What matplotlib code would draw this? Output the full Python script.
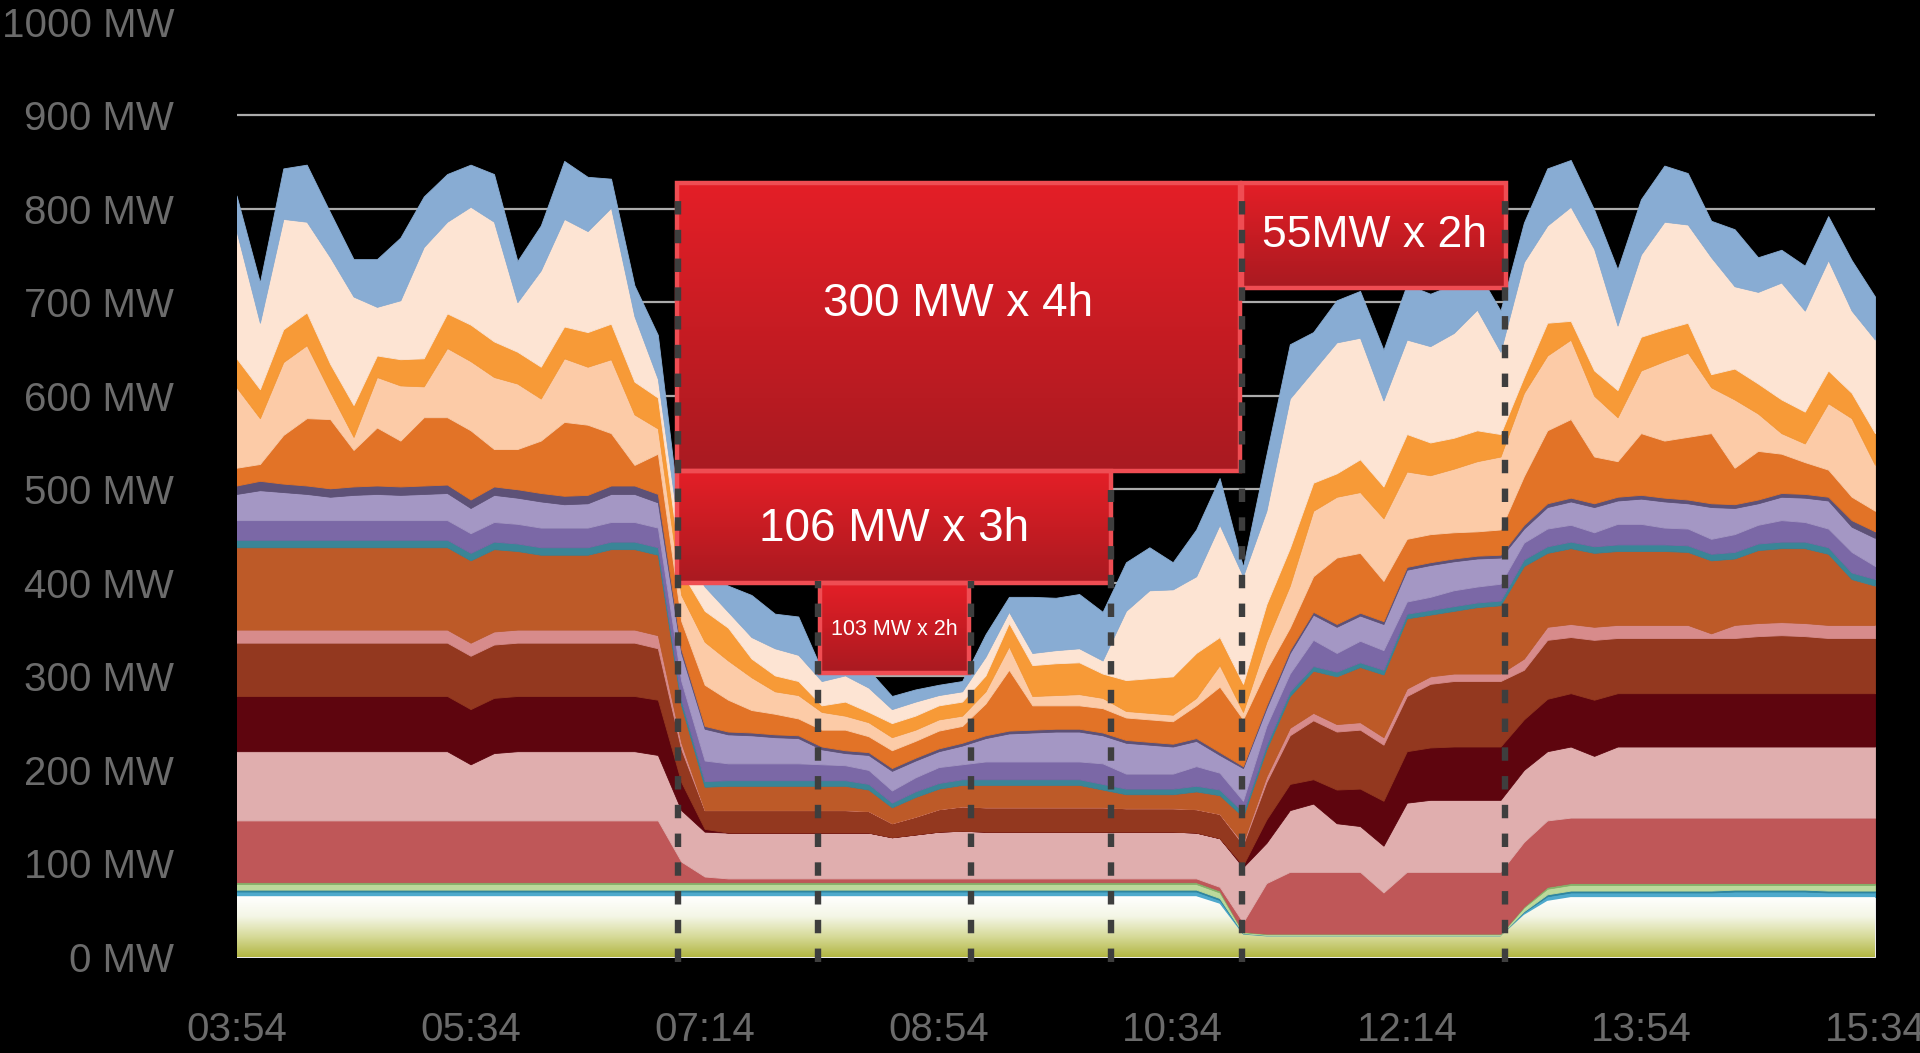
import numpy as np
import matplotlib
matplotlib.use("Agg")
import matplotlib.pyplot as plt
from matplotlib.colors import LinearSegmentedColormap
from matplotlib.patches import Rectangle

plt.rcParams['font.family'] = ['Liberation Sans', 'DejaVu Sans']

# sample times (every 10 min)
times = ["03:54", "04:04", "04:14", "04:24", "04:34", "04:44", "04:54", "05:04", "05:14", "05:24",
         "05:34", "05:44", "05:54", "06:04", "06:14", "06:24", "06:34", "06:44", "06:54", "07:04",
         "07:14", "07:24", "07:34", "07:44", "07:54", "08:04", "08:14", "08:24", "08:34", "08:44",
         "08:54", "09:04", "09:14", "09:24", "09:34", "09:44", "09:54", "10:04", "10:14", "10:24",
         "10:34", "10:44", "10:54", "11:04", "11:14", "11:24", "11:34", "11:44", "11:54", "12:04",
         "12:14", "12:24", "12:34", "12:44", "12:54", "13:04", "13:14", "13:24", "13:34", "13:44",
         "13:54", "14:04", "14:14", "14:24", "14:34", "14:44", "14:54", "15:04", "15:14", "15:24",
         "15:34"]

# MW per layer, bottom to top
base = [65, 65, 65, 65, 65, 65, 65, 65, 65, 65, 65, 65, 65, 65, 65, 65, 65, 65, 65, 65,
        65, 65, 65, 65, 65, 65, 65, 65, 65, 65, 65, 65, 65, 65, 65, 65, 65, 65, 65, 65,
        65, 65, 57, 24, 22, 22, 22, 22, 22, 22, 22, 22, 22, 22, 22, 45, 60, 64, 64, 64,
        64, 64, 64, 64, 64, 64, 64, 64, 64, 64, 64]
light_blue = [5, 5, 5, 5, 5, 5, 5, 5, 5, 5, 5, 5, 5, 5, 5, 5, 5, 5, 5, 5,
              5, 5, 5, 5, 5, 5, 5, 5, 5, 5, 5, 5, 5, 5, 5, 5, 5, 5, 5, 5,
              5, 5, 4, 1, 1, 1, 1, 1, 1, 1, 1, 1, 1, 1, 1, 3, 5, 5, 5, 5,
              5, 5, 5, 5, 6, 6, 6, 6, 5, 5, 5]
teal_line = [2, 2, 2, 2, 2, 2, 2, 2, 2, 2, 2, 2, 2, 2, 2, 2, 2, 2, 2, 2,
             2, 2, 2, 2, 2, 2, 2, 2, 2, 2, 2, 2, 2, 2, 2, 2, 2, 2, 2, 2,
             2, 2, 2, 0.5, 0.5, 0.5, 0.5, 0.5, 0.5, 0.5, 0.5, 0.5, 0.5, 0.5, 0.5, 1, 2, 2, 2, 2,
             2, 2, 2, 2, 2, 2, 2, 2, 2, 2, 2]
light_green = [6, 6, 6, 6, 6, 6, 6, 6, 6, 6, 6, 6, 6, 6, 6, 6, 6, 6, 6, 6,
               6, 6, 6, 6, 6, 6, 6, 6, 6, 6, 6, 6, 6, 6, 6, 6, 6, 6, 6, 6,
               6, 6, 6, 1, 1, 1, 1, 1, 1, 1, 1, 1, 1, 1, 1, 4, 6, 6, 6, 6,
               6, 6, 6, 6, 5, 5, 5, 5, 6, 6, 6]
dark_green = [2, 2, 2, 2, 2, 2, 2, 2, 2, 2, 2, 2, 2, 2, 2, 2, 2, 2, 2, 2,
              2, 2, 2, 2, 2, 2, 2, 2, 2, 2, 2, 2, 2, 2, 2, 2, 2, 2, 2, 2,
              2, 2, 2, 0.5, 0.5, 0.5, 0.5, 0.5, 0.5, 0.5, 0.5, 0.5, 0.5, 0.5, 0.5, 1, 2, 2, 2, 2,
              2, 2, 2, 2, 2, 2, 2, 2, 2, 2, 2]
red = [66, 66, 66, 66, 66, 66, 66, 66, 66, 66, 66, 66, 66, 66, 66, 66, 66, 66, 66, 22,
       6, 4, 4, 4, 4, 4, 4, 4, 4, 4, 4, 4, 4, 4, 4, 4, 4, 4, 4, 4,
       4, 4, 4, 10, 54, 66, 66, 66, 66, 44, 66, 66, 66, 66, 66, 69, 71, 70, 70, 70,
       70, 70, 70, 70, 70, 70, 70, 70, 70, 70, 70]
pink = [74, 74, 74, 74, 74, 74, 74, 74, 74, 74, 60, 72, 74, 74, 74, 74, 74, 74, 70, 55,
        48, 49, 49, 49, 49, 49, 49, 49, 44, 47, 50, 51, 50, 50, 50, 50, 50, 50, 50, 50,
        50, 49, 52, 59, 43, 66, 73, 52, 49, 50, 74, 77, 77, 77, 77, 77, 74, 76, 66, 76,
        76, 76, 76, 76, 76, 76, 76, 76, 76, 76, 76]
maroon = [59, 59, 59, 59, 59, 59, 59, 59, 59, 59, 59, 59, 59, 59, 59, 59, 59, 59, 59, 30,
          3, 0, 0, 0, 0, 0, 0, 0, 0, 0, 0, 0, 0, 0, 0, 0, 0, 0, 0, 0,
          0, 0, 0, 2, 25, 28, 26, 36, 40, 48, 55, 56, 57, 57, 57, 54, 56, 57, 60, 57,
          57, 57, 57, 57, 57, 57, 57, 57, 57, 57, 57]
brown = [57, 57, 57, 57, 57, 57, 57, 57, 57, 57, 57, 57, 57, 57, 57, 57, 57, 57, 55, 35,
         20, 24, 24, 24, 24, 24, 24, 23, 15, 19, 24, 26, 26, 26, 26, 26, 26, 26, 25, 25,
         25, 25, 26, 22, 40, 52, 63, 62, 63, 60, 59, 68, 70, 70, 70, 53, 63, 60, 64, 59,
         59, 59, 59, 59, 59, 61, 62, 61, 59, 59, 59]
light_pink = [14, 14, 14, 14, 14, 14, 14, 14, 14, 14, 14, 14, 14, 14, 14, 14, 14, 14, 14, 7,
              0, 0, 0, 0, 0, 0, 0, 0, 0, 0, 0, 0, 0, 0, 0, 0, 0, 0, 0, 0,
              0, 0, 0, 2, 6, 8, 8, 8, 8, 8, 8, 8, 8, 8, 8, 12, 14, 14, 14, 14,
              14, 14, 14, 5, 14, 14, 14, 14, 14, 14, 14]
rust = [88, 88, 88, 88, 88, 88, 88, 88, 88, 88, 88, 88, 84, 80, 80, 80, 86, 86, 86, 40,
        25, 26, 26, 26, 26, 26, 26, 23, 17, 21, 22, 23, 24, 24, 24, 24, 24, 19, 15, 15,
        15, 19, 20, 28, 29, 34, 45, 51, 59, 67, 75, 66, 67, 71, 73, 99, 79, 81, 79, 79,
        79, 79, 78, 78, 71, 78, 79, 80, 76, 49, 42]
teal = [8, 8, 8, 8, 8, 8, 8, 8, 8, 8, 8, 8, 8, 8, 8, 8, 8, 8, 8, 6,
        6, 6, 6, 6, 6, 6, 6, 6, 5, 6, 6, 6, 6, 6, 6, 6, 6, 6, 6, 6,
        6, 6, 6, 5, 5, 5, 5, 5, 5, 5, 5, 5, 5, 5, 5, 7, 7, 7, 7, 7,
        7, 7, 7, 7, 7, 7, 7, 7, 7, 7, 7]
purple = [21, 21, 21, 21, 21, 21, 21, 21, 21, 21, 21, 21, 21, 21, 21, 21, 21, 21, 21, 20,
          22, 18, 18, 18, 18, 17, 16, 15, 13, 15, 17, 16, 19, 19, 19, 19, 19, 22, 16, 16,
          16, 21, 18, 12, 20, 19, 28, 20, 23, 21, 13, 14, 17, 17, 18, 18, 19, 18, 15, 22,
          22, 18, 18, 16, 19, 20, 23, 21, 20, 22, 14]
lavender = [28, 32, 30, 28, 25, 27, 28, 27, 28, 29, 27, 29, 28, 28, 25, 26, 30, 30, 27, 30,
            34, 31, 30, 28, 27, 16, 13, 16, 21, 18, 17, 20, 25, 30, 31, 32, 32, 30, 33, 31,
            29, 27, 19, 35, 19, 22, 27, 28, 27, 28, 34, 34, 31, 30, 28, 15, 23, 25, 27, 25,
            27, 28, 27, 34, 28, 23, 25, 26, 30, 27, 30]
slate = [9, 10, 9, 9, 9, 9, 9, 9, 9, 9, 9, 9, 9, 9, 9, 9, 9, 9, 9, 4,
         3, 3, 3, 3, 3, 3, 3, 3, 3, 3, 3, 3, 3, 3, 3, 3, 3, 3, 3, 3,
         3, 3, 3, 2, 3, 3, 3, 3, 3, 3, 3, 3, 3, 3, 3, 4, 4, 4, 4, 4,
         4, 4, 4, 4, 4, 4, 4, 4, 4, 7, 7]
orange = [19, 18, 52, 72, 74, 39, 62, 49, 73, 72, 74, 40, 43, 56, 79, 75, 56, 22, 43, 30,
          44, 34, 24, 22, 18, 18, 22, 17, 19, 18, 19, 18, 34, 65, 26, 25, 25, 26, 24, 24,
          24, 35, 70, 50, 38, 24, 38, 71, 64, 43, 30, 30, 28, 26, 27, 52, 78, 84, 50, 38,
          66, 61, 67, 75, 39, 52, 42, 34, 29, 25, 22]
peach = [86, 49, 78, 78, 29, 14, 54, 59, 33, 74, 74, 77, 70, 45, 68, 62, 79, 54, 27, 28,
         46, 42, 35, 24, 25, 19, 15, 15, 14, 12, 12, 11, 13, 25, 10, 11, 12, 11, 7, 7,
         7, 8, 23, 8, 30, 45, 70, 65, 65, 67, 72, 63, 68, 75, 78, 89, 80, 85, 65, 47,
         67, 85, 90, 49, 73, 40, 22, 20, 71, 84, 49]
bright_orange = [31, 31, 35, 35, 30, 34, 23, 28, 30, 37, 39, 38, 34, 34, 34, 37, 38, 35, 33, 25,
                 33, 35, 20, 17, 15, 7, 15, 11, 15, 15, 15, 15, 17, 25, 33, 34, 34, 26, 33, 37,
                 41, 48, 30, 30, 40, 40, 30, 25, 35, 34, 40, 35, 33, 33, 24, 17, 35, 20, 27, 29,
                 36, 34, 32, 14, 33, 32, 36, 34, 35, 27, 34]
light_peach = [136, 71, 118, 97, 114, 116, 52, 63, 119, 98, 126, 128, 53, 103, 115, 108, 124, 70, 20, 25,
               26, 17, 23, 29, 28, 26, 28, 26, 15, 15, 11, 11, 20, 12, 13, 14, 15, 14, 74, 94,
               93, 82, 120, 115, 100, 160, 120, 140, 130, 92, 101, 103, 112, 129, 88, 123, 104, 122, 130, 69,
               88, 115, 105, 125, 88, 98, 125, 108, 118, 88, 100]
blue = [38, 43, 54, 61, 48, 40, 51, 67, 54, 51, 45, 51, 44, 48, 62, 58, 31, 33, 47, 20,
        16, 28, 45, 37, 41, 12, 11, 19, 14, 13, 11, 11, 24, 16, 60, 56, 58, 52, 52, 46,
        29, 50, 50, 10, 60, 58, 41, 45, 50, 54, 59, 56, 52, 42, 44, 42, 61, 50, 42, 60,
        59, 60, 55, 39, 61, 37, 35, 48, 47, 54, 46]

layers = [base, light_blue, teal_line, light_green, dark_green, red, pink, maroon, brown,
          light_pink, rust, teal, purple, lavender, slate, orange, peach, bright_orange,
          light_peach, blue]
colors = ['#ffffff', '#4ea9cc', '#2f86a0', '#bcd99b', '#86b26a', '#bf5758', '#e0aeae',
          '#5e050e', '#93381f', '#d78b8b', '#bd5a28', '#3a8597', '#7b68a6', '#a497c4',
          '#5d5177', '#e27327', '#fccba7', '#f79a37', '#fde4d3', '#88acd3']

# annotation boxes (minutes since midnight, MW)
box_labels = ["300 MW x 4h", "106 MW x 3h", "103 MW x 2h", "55MW x 2h"]
box_x0 = [422.1, 422.1, 483.2, 663.6]
box_x1 = [662.6, 607.8, 546.9, 776.5]
box_lo = [519.0, 399.8, 304.0, 715.0]
box_hi = [827.8, 519.0, 399.8, 827.5]
box_text_y = [698, 457, 350, 771]
box_font = [33, 33, 15.5, 32]

# dashed markers
mark_x = [422.7, 482.5, 548.0, 607.4, 663.6, 775.9]
mark_top = [810, 402, 402, 499, 810, 810]

def to_min(s):
    h, m = s.split(":")
    return int(h) * 60 + int(m)

x = np.array([to_min(t) for t in times], dtype=float)

fig = plt.figure(figsize=(19.2, 10.53), dpi=100, facecolor='black')
ax = fig.add_axes([236.5 / 1920, 96 / 1053, (1875 - 236.5) / 1920, 957 / 1053])
ax.set_facecolor('black')
ymin, ymax = 0, 1023

for v in range(100, 1000, 100):
    ax.axhline(v, color='#ababab', lw=1.6, zorder=0.5)

tops = np.cumsum(np.array(layers, dtype=float), axis=0)
bottoms = np.vstack([np.full(len(x), ymin), tops[:-1]])
for k in range(len(layers)):
    poly = ax.fill_between(x, bottoms[k], tops[k], facecolor=colors[k], edgecolor=colors[k],
                           lw=0.6, zorder=2)
    if k == 0:
        cm = LinearSegmentedColormap.from_list('base', ['#b2b643', '#d6da98', '#f4f6e6', '#ffffff'])
        grad = np.linspace(0, 1, 256).reshape(-1, 1)
        im = ax.imshow(grad, cmap=cm, origin='lower', aspect='auto',
                       extent=[x[0], x[-1], ymin, 65], zorder=2.1)
        im.set_clip_path(poly.get_paths()[0], ax.transData)

# red boxes
box_cm = LinearSegmentedColormap.from_list('box', ['#e41f27', '#c71c23', '#a91a21'])
for lab, x0, x1, lo, hi, ty, fs in zip(box_labels, box_x0, box_x1, box_lo, box_hi,
                                       box_text_y, box_font):
    g = np.linspace(0, 1, 128).reshape(-1, 1)
    ax.imshow(g, cmap=box_cm, origin='upper', aspect='auto', extent=[x0, x1, lo, hi], zorder=3)
    ax.add_patch(Rectangle((x0, lo), x1 - x0, hi - lo, fill=False, edgecolor='#ef4d53',
                           lw=3.2, zorder=3.5))
    ax.text((x0 + x1) / 2, ty, lab, color='white', ha='center', va='center',
            fontsize=fs, zorder=6)

for mx, mt in zip(mark_x, mark_top):
    ax.plot([mx, mx], [-5, mt], color='#3e3e3e', lw=4.6, linestyle=(0, (2.1, 2.4)),
            dash_capstyle='butt', clip_on=False, zorder=5)

ax.set_xlim(x[0], x[-1])
ax.set_ylim(ymin, ymax)

xt = list(range(234, 935, 100))
ax.set_xticks(xt)
ax.set_xticklabels(["%02d:%02d" % (t // 60, t % 60) for t in xt])
ax.set_yticks(range(0, 1001, 100))
ax.set_yticklabels(["%d MW" % v for v in range(0, 1001, 100)])
ax.tick_params(axis='both', length=0, colors='#6b6b6b', labelsize=29)
ax.tick_params(axis='x', pad=39)
ax.tick_params(axis='y', pad=45)
for s in ax.spines.values():
    s.set_visible(False)

plt.savefig("out.png", dpi=100, facecolor='black')
